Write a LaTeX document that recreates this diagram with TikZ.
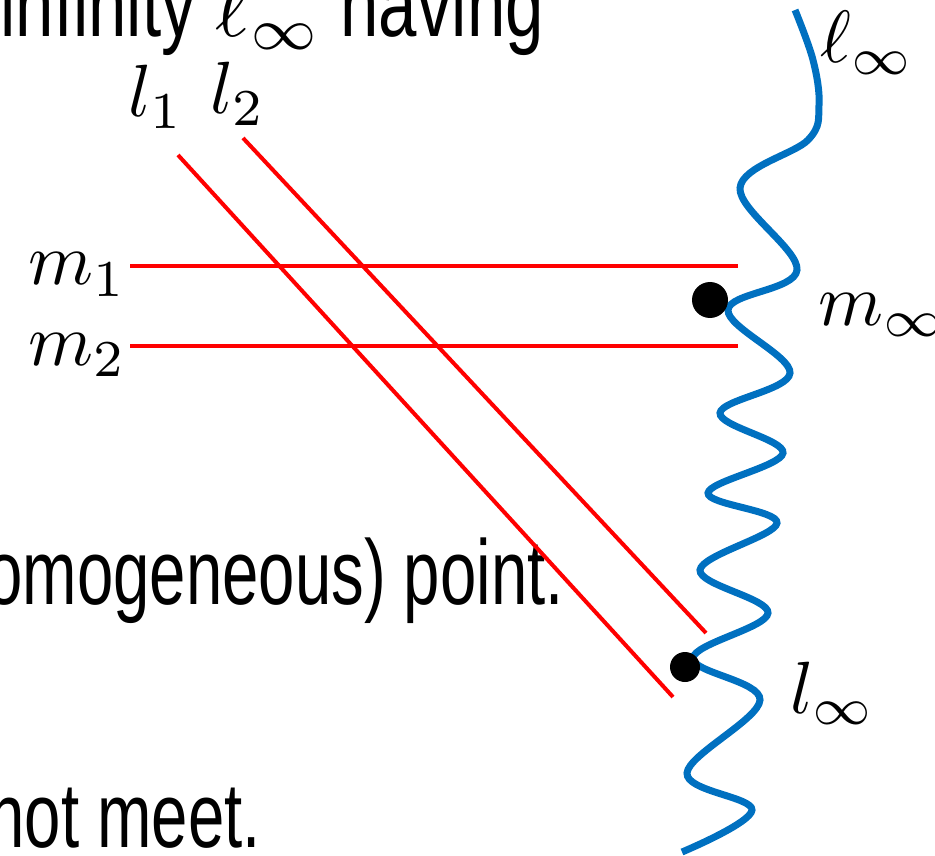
\documentclass[tikz,border=0pt]{standalone}
\usepackage{graphicx}
\usepackage{fontspec}
\newfontfamily\bodyfont{Liberation Sans}[FakeStretch=0.71]
\newfontfamily\topfont{Liberation Sans}[FakeStretch=0.75]
\definecolor{linered}{HTML}{FF0000}
\definecolor{waveblue}{HTML}{0070C0}
\newcommand\mlbl[1]{\scalebox{3.7}{\fontsize{10}{12}\selectfont$#1$}}
\newcommand\mtxt[1]{\scalebox{4.2}{\fontsize{10}{12}\selectfont$#1$}}
\tikzset{
  redline/.style={draw=linered, line width=2pt},
  wave/.style={draw=waveblue, line width=3.5pt},
  dot/.style={circle, fill=black, inner sep=0pt},
  lbl/.style={anchor=base west, inner sep=0pt},
  body/.style={anchor=base west, inner sep=0pt, font=\bodyfont\fontsize{46}{55}\selectfont}
}
\begin{document}
\begin{tikzpicture}[x=0.5pt,y=-0.5pt]
\path[use as bounding box, clip] (0,0) rectangle (935,855);

% Slide text
\node[body, font=\topfont\fontsize{46}{55}\selectfont] (txta) at (0,37) {infinity \mtxt{\ell_\infty} having};
\node[body] (txtb) at (-14,604) {omogeneous) point.};
\node[body] (txtc) at (-12,847) {not meet.};

% Parallel lines
\coordinate (l1a) at (178,155); \coordinate (l1b) at (673,697);
\coordinate (l2a) at (243,138); \coordinate (l2b) at (706,633);
\coordinate (m1a) at (130,266); \coordinate (m1b) at (738,266);
\coordinate (m2a) at (130,346); \coordinate (m2b) at (738,346);

\draw[redline] (l1a) -- (l1b);
\draw[redline] (l2a) -- (l2b);
\draw[redline] (m1a) -- (m1b);
\draw[redline] (m2a) -- (m2b);

% Line at infinity
\draw[wave] plot[smooth, tension=0.6] coordinates {(795,10) (813,60) (819,105) (808,140)
  (740,188) (797,270) (728,310) (790,373) (720,413) (783,453) (708,493) (777,523)
  (700,570) (768,613) (693,658) (760,700) (687,773) (752,810) (682,852)};

% Points at infinity
\node[dot, minimum size=18pt] (minf) at (710,300) {};
\node[dot, minimum size=15pt] (linf) at (685,667) {};

% Labels
\node[lbl] (lbll1) at (128,117) {\mlbl{l_1}};
\node[lbl] (lbll2) at (210,114) {\mlbl{l_2}};
\node[lbl] (lblm1) at (28,285) {\mlbl{m_1}};
\node[lbl] (lblm2) at (28,365) {\mlbl{m_2}};
\node[lbl] (lblell) at (820,63) {\mlbl{\ell_\infty}};
\node[lbl] (lblminf) at (818,325) {\mlbl{m_\infty}};
\node[lbl] (lbllinf) at (790,713) {\mlbl{l_\infty}};

\end{tikzpicture}
\end{document}
